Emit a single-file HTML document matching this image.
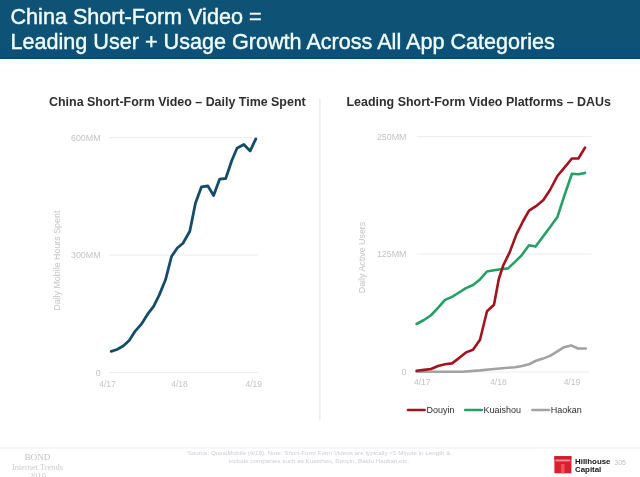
<!DOCTYPE html>
<html>
<head>
<meta charset="utf-8">
<style>
html,body{margin:0;padding:0;}
body{width:640px;height:477px;background:#fff;overflow:hidden;position:relative;font-family:"Liberation Sans",sans-serif;}
#hdr{position:absolute;left:-10px;top:-10px;width:660px;height:69px;background:linear-gradient(#0e5275 0%,#0e5275 78%,#0b4f7d 97%,#0a4866 100%);}
#hdr div{position:absolute;left:20.5px;-webkit-text-stroke:0.4px #f2ffff;color:#f2ffff;font-size:21.6px;white-space:nowrap;letter-spacing:0px;}
.t{position:absolute;font-weight:bold;font-size:12.45px;color:#2e2e2e;white-space:nowrap;}
svg{position:absolute;left:0;top:0;}
#wrap{position:absolute;left:-10px;top:-10px;width:660px;height:497px;background:#fff;filter:blur(0.45px);}
#in{position:absolute;left:10px;top:10px;width:640px;height:477px;}
.ax{font-family:"Liberation Sans",sans-serif;font-size:8.9px;fill:#c4c4c4;}
.xl{font-size:8.5px;}
.yl{font-size:8.9px;}
.lg{font-family:"Liberation Sans",sans-serif;font-size:9px;fill:#2c2c2c;}
#src{position:absolute;left:149px;width:340px;top:449px;text-align:center;font-size:6.26px;line-height:8px;color:#cdcdd6;}
#bond{position:absolute;left:0;width:75px;top:453.3px;text-align:center;font-family:"Liberation Serif",serif;color:#cccccc;font-size:8.4px;line-height:9.3px;}
#hh{position:absolute;left:575px;top:457.8px;font-weight:bold;font-size:7.9px;line-height:8px;color:#151515;}
#pg{position:absolute;left:614.3px;top:459.1px;font-size:7px;color:#c0c0c0;}
</style>
</head>
<body>
<div id="wrap"><div id="in">
<div id="hdr">
<div style="top:14px">China Short-Form Video =</div>
<div style="top:39px">Leading User + Usage Growth Across All App Categories</div>
</div>
<div class="t" style="left:49px;top:95px">China Short-Form Video – Daily Time Spent</div>
<div class="t" style="left:346.5px;top:95px">Leading Short-Form Video Platforms – DAUs</div>
<svg width="640" height="477" viewBox="0 0 640 477">
<!-- divider -->
<line x1="319.9" y1="98.5" x2="319.9" y2="420.5" stroke="#e9e9e9" stroke-width="1.3"/>
<line x1="0" y1="448" x2="640" y2="448" stroke="#ededed" stroke-width="1"/>
<!-- left chart -->
<g stroke="#ececec" stroke-width="1">
<line x1="109" y1="137.7" x2="258" y2="137.7"/>
<line x1="109" y1="255" x2="258" y2="255"/>
<line x1="109" y1="372.4" x2="258" y2="372.4"/>
</g>
<text class="ax" x="100.6" y="141" text-anchor="end">600MM</text>
<text class="ax" x="100.6" y="258.3" text-anchor="end">300MM</text>
<text class="ax" x="100.6" y="375.7" text-anchor="end">0</text>
<text class="ax xl" x="107.5" y="387" text-anchor="middle">4/17</text>
<text class="ax xl" x="179.5" y="387" text-anchor="middle">4/18</text>
<text class="ax xl" x="253.7" y="387" text-anchor="middle">4/19</text>
<text class="ax yl" transform="translate(59.5,260.7) rotate(-90)" text-anchor="middle">Daily Mobile Hours Spent</text>
<polyline fill="none" stroke="#154d69" stroke-width="2.8" stroke-linejoin="round" stroke-linecap="round" points="111.2,351.4 116.9,349.5 123.2,346.1 129.2,340.5 135.2,331.1 141.2,324.4 147.6,314.2 153.6,306.4 159.2,295.1 165.5,279.8 171.5,256.5 177.3,248 183,243.2 189.8,231.3 195.5,203 201.5,186.8 207.9,186 213.6,195.5 219.6,179.2 225.7,178.5 231.7,160.8 237,148.3 243.8,144.5 250.2,150.9 255.8,138.9"/>
<!-- right chart -->
<g stroke="#ececec" stroke-width="1">
<line x1="416.8" y1="136.6" x2="591.5" y2="136.6"/>
<line x1="416.8" y1="253.9" x2="591.5" y2="253.9"/>
<line x1="416.8" y1="372" x2="589" y2="372"/>
</g>
<text class="ax" x="406.5" y="139.9" text-anchor="end">250MM</text>
<text class="ax" x="406.5" y="256.7" text-anchor="end">125MM</text>
<text class="ax" x="406.5" y="374.8" text-anchor="end">0</text>
<text class="ax xl" x="422.3" y="384.6" text-anchor="middle">4/17</text>
<text class="ax xl" x="498.4" y="384.6" text-anchor="middle">4/18</text>
<text class="ax xl" x="571.9" y="384.6" text-anchor="middle">4/19</text>
<text class="ax yl" transform="translate(365.3,257.5) rotate(-90)" text-anchor="middle">Daily Active Users</text>
<polyline fill="none" stroke="#a2a2a2" stroke-width="2.6" stroke-linejoin="round" stroke-linecap="round" points="416.6,371.7 462.5,371.7 480,370.4 494,369 508,367.75 515,367.3 522,366 529,364.25 536,360.75 543,358.6 550,355.9 557,351.6 564,347.2 571,345.4 578,348.5 585.9,348.5"/>
<polyline fill="none" stroke="#24a064" stroke-width="2.6" stroke-linejoin="round" stroke-linecap="round" points="416.6,324 424,320 431,315.25 438,307.8 445,299.9 452,296.9 459,292.5 466,288.1 473,285 480,279.4 487,271.5 494,270.2 501,269.3 508,268.4 515,261.9 521.6,255.3 529,245.25 535.6,246.6 543.4,235.9 550,227.2 557.4,217.1 564,196.6 571.9,173.8 578.4,174.25 585,172.9"/>
<polyline fill="none" stroke="#a3131f" stroke-width="2.6" stroke-linejoin="round" stroke-linecap="round" points="416.6,370.8 424,369.9 431,369 438,366 445,364.25 452,363.4 459,358.1 466,352.4 473,349.8 480,339.75 487,311.3 494,304.75 498.8,279 503.2,265.5 509.75,252.1 516.3,234.6 522.9,221.5 529,210.6 536,206.2 543.4,200 550,190 557.4,176 564,168.1 571.9,158.5 578.4,158.5 585,147.6"/>
<!-- legend -->
<line x1="408" y1="410" x2="424.6" y2="410" stroke="#a3131f" stroke-width="2.6" stroke-linecap="round"/>
<text class="lg" x="426.4" y="413.3">Douyin</text>
<line x1="465.2" y1="410" x2="481.8" y2="410" stroke="#24a064" stroke-width="2.6" stroke-linecap="round"/>
<text class="lg" x="483.6" y="413.3">Kuaishou</text>
<line x1="532.4" y1="410" x2="549" y2="410" stroke="#a2a2a2" stroke-width="2.6" stroke-linecap="round"/>
<text class="lg" x="550.8" y="413.3">Haokan</text>
<!-- hillhouse logo -->
<rect x="554.4" y="456.2" width="17" height="17.1" fill="#dc1f2c"/>
<rect x="554.4" y="456.2" width="17" height="3.4" fill="#c9202a"/>
<rect x="555.6" y="459.5" width="14.6" height="1.9" fill="#f0909a"/>
<rect x="561" y="464" width="3.6" height="9.3" fill="#e8505c"/>
</svg>
<div id="src">Source: QuestMobile (4/19). Note: Short-Form Form Videos are typically &lt;5 Minute in Length &amp;<br>include companies such as Kuaishou, Douyin, Baidu Haokan,etc.</div>
<div id="bond"><span style="font-size:9.2px;color:#c2c2c2">BOND</span><br>Internet Trends<br>2019</div>
<div id="hh">Hillhouse<br>Capital</div>
<div id="pg">305</div>
</div></div>
</body>
</html>
